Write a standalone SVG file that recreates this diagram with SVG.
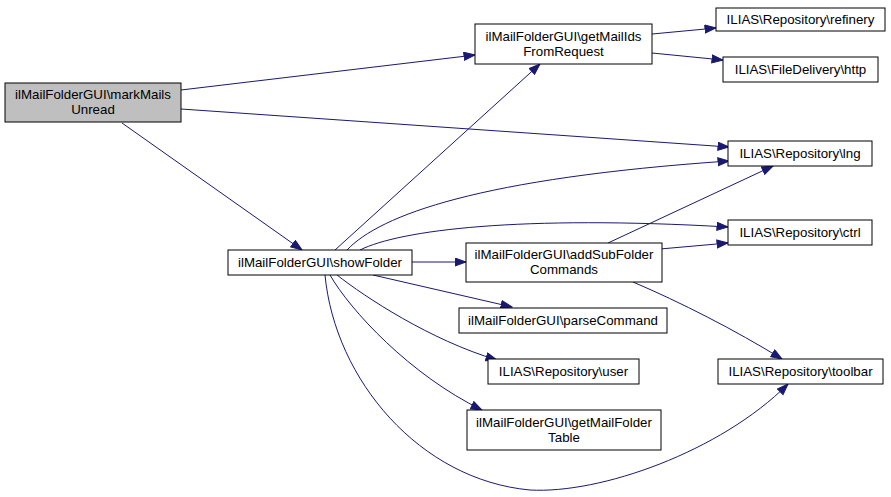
<svg xmlns="http://www.w3.org/2000/svg" width="891" height="497" viewBox="0 0 891 497">
<style>
.n rect{stroke:#000;stroke-width:1;fill:#fff}
.n.root rect{fill:#bfbfbf}
.n text{font-family:"Liberation Sans",Arial,Helvetica,sans-serif;font-size:13.3px;text-anchor:middle;fill:#000}
.e path{fill:none;stroke:#191970;stroke-width:1;marker-end:url(#ah)}
</style>
<defs>
<marker id="ah" markerUnits="userSpaceOnUse" markerWidth="13" markerHeight="10" refX="11.5" refY="4.5" orient="auto" viewBox="0 0 13 10">
<path d="M0.5,0.5 L11.5,4.5 L0.5,8.5 z" fill="#191970" stroke="#191970" stroke-width="1"/>
</marker>
</defs>
<rect width="891" height="497" fill="#fff"/>
<g id="edges" class="e">
<path d="M181,90 L475,55"/>
<path d="M181,109 L729,147"/>
<path d="M122,123 L302,250"/>
<path d="M652,34 L716,28"/>
<path d="M652,53 L723,60"/>
<path d="M335,250 L540,64"/>
<path d="M347,250 C380,215 480,178 729,161"/>
<path d="M360,250 C400,230 520,215 728,227"/>
<path d="M412,262 L466,262"/>
<path d="M373,275 L512,307"/>
<path d="M337,275 C365,297 430,340 497,360"/>
<path d="M330,275 C350,310 410,375 482,410"/>
<path d="M325,275 C335,380 420,480 530,490 C600,494 720,452 788,384"/>
<path d="M608,243 L773,166"/>
<path d="M660,249 L728,243"/>
<path d="M633,282 C680,302 735,330 782,359"/>
</g>
<g id="markMailsUnread" class="n root"><rect x="5" y="83" width="176" height="39"/><text x="93" y="99">ilMailFolderGUI\markMails</text><text x="93" y="114">Unread</text></g>
<g id="getMailIdsFromRequest" class="n"><rect x="475" y="24" width="177" height="40"/><text x="563.5" y="41">ilMailFolderGUI\getMailIds</text><text x="563.5" y="55.5">FromRequest</text></g>
<g id="refinery" class="n"><rect x="716" y="8" width="169" height="23"/><text x="800.5" y="24">ILIAS\Repository\refinery</text></g>
<g id="http" class="n"><rect x="723" y="57" width="155" height="25"/><text x="800.5" y="74">ILIAS\FileDelivery\http</text></g>
<g id="lng" class="n"><rect x="728" y="141" width="144" height="25"/><text x="800" y="158">ILIAS\Repository\lng</text></g>
<g id="ctrl" class="n"><rect x="728" y="220" width="144" height="25"/><text x="800" y="237">ILIAS\Repository\ctrl</text></g>
<g id="showFolder" class="n"><rect x="228" y="250" width="184" height="25"/><text x="320" y="267">ilMailFolderGUI\showFolder</text></g>
<g id="addSubFolderCommands" class="n"><rect x="466" y="243" width="196" height="39"/><text x="564" y="259">ilMailFolderGUI\addSubFolder</text><text x="564" y="273.5">Commands</text></g>
<g id="parseCommand" class="n"><rect x="459" y="308" width="208" height="25"/><text x="563" y="325">ilMailFolderGUI\parseCommand</text></g>
<g id="user" class="n"><rect x="488" y="359" width="151" height="25"/><text x="563.5" y="376">ILIAS\Repository\user</text></g>
<g id="toolbar" class="n"><rect x="718" y="359" width="165" height="25"/><text x="800.5" y="376">ILIAS\Repository\toolbar</text></g>
<g id="getMailFolderTable" class="n"><rect x="467" y="410" width="194" height="40"/><text x="564" y="427">ilMailFolderGUI\getMailFolder</text><text x="564" y="441.5">Table</text></g>
</svg>
